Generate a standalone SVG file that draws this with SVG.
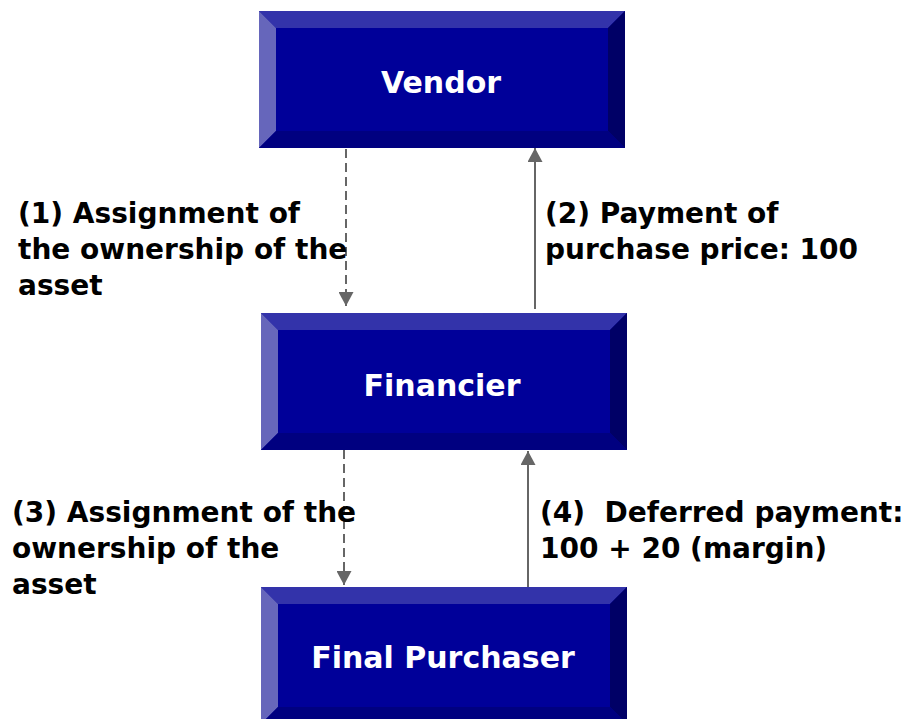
<svg xmlns="http://www.w3.org/2000/svg" width="915" height="719" viewBox="0 0 915 719">
  <style>
    .face { fill: #000099; }
    .bev-top { fill: #3333AA; }
    .bev-left { fill: #6666BB; }
    .bev-right { fill: #000066; }
    .bev-bottom { fill: #000080; }
    .title { font-family: "DejaVu Sans", Verdana, sans-serif; font-weight: bold; font-size: 30px; fill: #ffffff; text-anchor: middle; }
    .label { font-family: "DejaVu Sans", Verdana, sans-serif; font-weight: bold; font-size: 28px; fill: #000000; }
    .conn { stroke: #666666; stroke-width: 2; fill: none; }
    .dashed { stroke-dasharray: 9 5; }
  </style>
  <defs>
    <marker id="head" viewBox="0 0 14 15" refX="14" refY="7.5" markerWidth="14" markerHeight="15" markerUnits="userSpaceOnUse" orient="auto">
      <path d="M0,0 L14,7.5 L0,15 Z" fill="#666666"/>
    </marker>
    <!-- bevelled box, 366 x 137, bevel 17 -->
    <g id="bevelBox">
      <rect class="face" x="0" y="0" width="366" height="137"/>
      <polygon class="bev-top" points="0,0 366,0 349,17 17,17"/>
      <polygon class="bev-left" points="0,0 17,17 17,120 0,137"/>
      <polygon class="bev-right" points="366,0 366,137 349,120 349,17"/>
      <polygon class="bev-bottom" points="0,137 17,120 349,120 366,137"/>
    </g>
  </defs>

  <rect width="915" height="719" fill="#ffffff"/>

  <g id="connectors">
    <line class="conn dashed" x1="346" y1="149" x2="346" y2="306" marker-end="url(#head)"/>
    <line class="conn" x1="535" y1="309" x2="535" y2="148" marker-end="url(#head)"/>
    <line class="conn dashed" x1="344" y1="450" x2="344" y2="585" marker-end="url(#head)"/>
    <line class="conn" x1="528" y1="587" x2="528" y2="451" marker-end="url(#head)"/>
  </g>

  <g id="vendor">
    <use href="#bevelBox" x="259" y="11"/>
    <text class="title" x="441" y="93">Vendor</text>
  </g>

  <g id="financier">
    <use href="#bevelBox" x="261" y="313"/>
    <text class="title" x="442" y="396">Financier</text>
  </g>

  <g id="final-purchaser">
    <use href="#bevelBox" x="261" y="587"/>
    <text class="title" x="443" y="668">Final Purchaser</text>
  </g>

  <g id="labels">
    <text class="label" x="18" y="223">(1) Assignment of</text>
    <text class="label" x="18" y="259">the ownership of the</text>
    <text class="label" x="18" y="295">asset</text>

    <text class="label" x="545" y="223">(2) Payment of</text>
    <text class="label" x="545" y="259">purchase price: 100</text>

    <text class="label" x="12" y="522">(3) Assignment of the</text>
    <text class="label" x="12" y="558">ownership of the</text>
    <text class="label" x="12" y="594">asset</text>

    <text class="label" x="540" y="522" xml:space="preserve">(4)  Deferred payment:</text>
    <text class="label" x="540" y="558">100 + 20 (margin)</text>
  </g>
</svg>
